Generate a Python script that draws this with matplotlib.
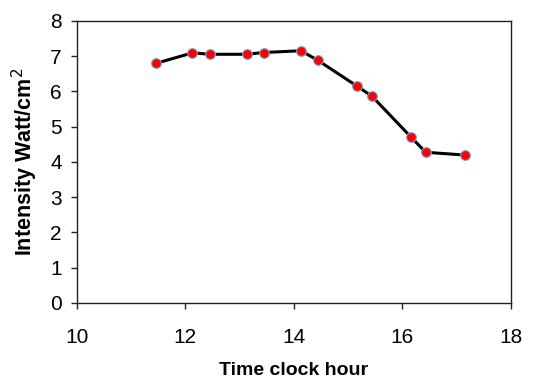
import matplotlib
matplotlib.use("Agg")
import matplotlib.pyplot as plt

# time of day (hours) and measured intensity
hours = [11.45, 12.13, 12.45, 13.13, 13.44, 14.13, 14.44, 15.16, 15.44, 16.16, 16.43, 17.16]
intensity = [6.79, 7.09, 7.05, 7.05, 7.10, 7.15, 6.88, 6.15, 5.86, 4.70, 4.27, 4.19]
xticks = [10, 12, 14, 16, 18]
yticks = [0, 1, 2, 3, 4, 5, 6, 7, 8]

plt.rcParams['font.family'] = ['Liberation Sans', 'DejaVu Sans']

fig = plt.figure(figsize=(5.44, 3.78), dpi=100)
ax = fig.add_axes([0.1415, 0.199, 0.7975, 0.746])

ax.plot(hours, intensity, color="black", linewidth=2.2, marker="o",
        markersize=7, markerfacecolor="red", markeredgecolor="#7aa0d8",
        markeredgewidth=0.8)

ax.set_xlim(10, 18)
ax.set_ylim(0, 8)
ax.set_xticks(xticks)
ax.set_yticks(yticks)
ax.tick_params(axis="both", direction="out", length=4, width=1, labelsize=15,
               color="#222222")
ax.tick_params(axis="x", pad=14)
ax.tick_params(axis="y", pad=7)
for s in ax.spines.values():
    s.set_linewidth(1)
    s.set_color("#222222")

ax.set_xlabel("Time clock hour", fontsize=14, fontweight="bold", labelpad=11)
ax.set_ylabel("Intensity Watt/cm$^2$", fontsize=15.5, fontweight="bold", labelpad=7)

fig.savefig("out.png", dpi=100)
